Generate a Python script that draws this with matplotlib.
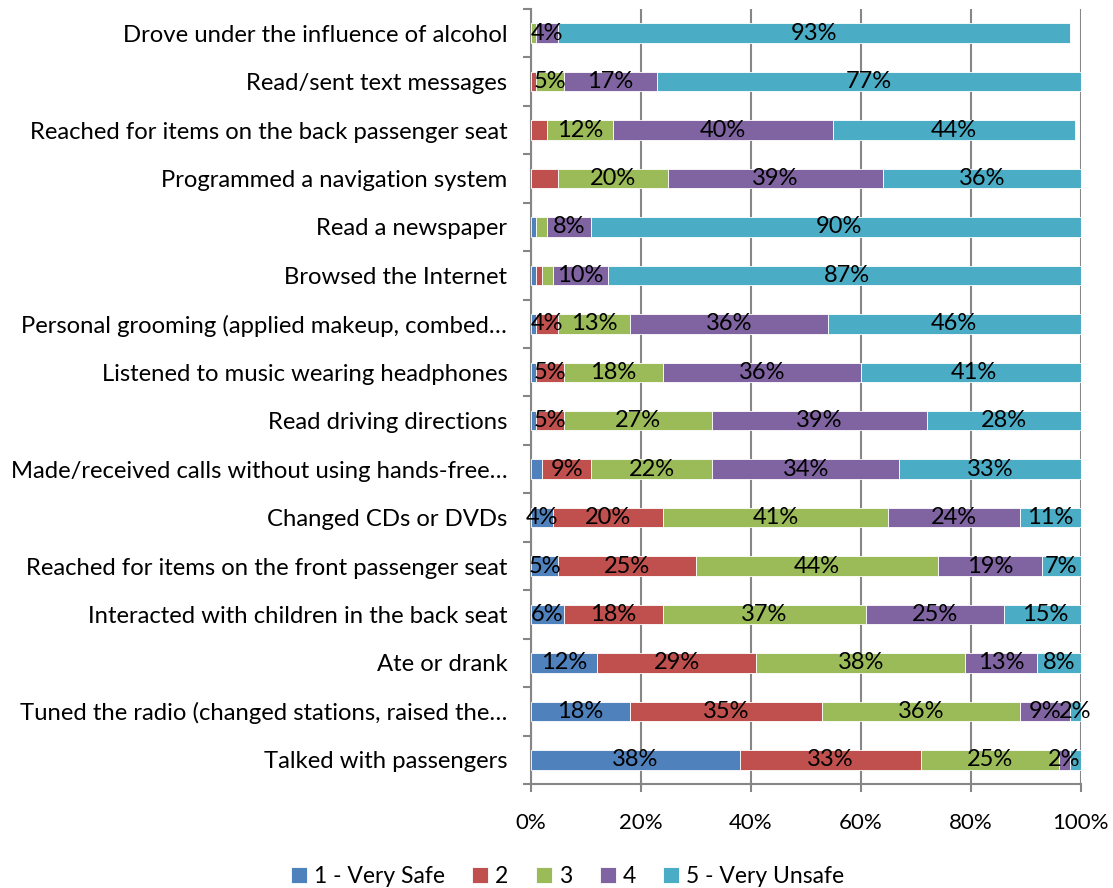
import matplotlib
matplotlib.use("Agg")
import matplotlib.pyplot as plt
import numpy as np

plt.rcParams['font.family'] = ['Lato', 'DejaVu Sans']

categories = [
    "Drove under the influence of alcohol",
    "Read/sent text messages",
    "Reached for items on the back passenger seat",
    "Programmed a navigation system",
    "Read a newspaper",
    "Browsed the Internet",
    "Personal grooming (applied makeup, combed\u2026",
    "Listened to music wearing headphones",
    "Read driving directions",
    "Made/received calls without using hands-free\u2026",
    "Changed CDs or DVDs",
    "Reached for items on the front passenger seat",
    "Interacted with children in the back seat",
    "Ate or drank",
    "Tuned the radio (changed stations, raised the\u2026",
    "Talked with passengers",
]

very_safe = [0, 0, 0, 0, 1, 1, 1, 1, 1, 2, 4, 5, 6, 12, 18, 38]
level_2 = [0, 1, 3, 5, 0, 1, 4, 5, 5, 9, 20, 25, 18, 29, 35, 33]
level_3 = [1, 5, 12, 20, 2, 2, 13, 18, 27, 22, 41, 44, 37, 38, 36, 25]
level_4 = [4, 17, 40, 39, 8, 10, 36, 36, 39, 34, 24, 19, 25, 13, 9, 2]
very_unsafe = [93, 77, 44, 36, 90, 87, 46, 41, 28, 33, 11, 7, 15, 8, 2, 2]

series_names = ["1 - Very Safe", "2", "3", "4", "5 - Very Unsafe"]
colors = ["#4F81BD", "#C0504D", "#9BBB59", "#8064A2", "#4BACC6"]

# labels that the original hid / kept despite the size
hidden = {(3, 1)}
forced = {(14, 4), (15, 3)}

series = [very_safe, level_2, level_3, level_4, very_unsafe]

fig = plt.figure(figsize=(11.13, 8.88), dpi=100)
ax = fig.add_axes([0.477, 0.117, 0.494, 0.873])

y = np.arange(len(categories))
left = np.zeros(len(categories))
for s, (vals, name, c) in enumerate(zip(series, series_names, colors)):
    vals = np.array(vals, dtype=float)
    ax.barh(y, vals, left=left, height=0.4, color=c, label=name,
            edgecolor="white", linewidth=0.6, zorder=3)
    for i, v in enumerate(vals):
        show = (v >= 4 and (i, s) not in hidden) or (i, s) in forced
        if show:
            ax.text(left[i] + v / 2, i, f"{int(v)}%", ha="center", va="center",
                    fontsize=17, color="black", zorder=4)
    left += vals

ax.set_ylim(len(categories) - 0.5, -0.5)
ax.set_xlim(0, 100)
ax.set_yticks(y)
ax.set_yticklabels(categories, fontsize=17.2)
ax.set_yticks(np.arange(len(categories) + 1) - 0.5, minor=True)
ax.tick_params(axis="y", which="major", length=0, pad=17)
ax.tick_params(axis="y", which="minor", length=6, color="#868686", width=1.5)

ax.set_xticks(np.arange(0, 101, 20))
ax.set_xticklabels([f"{t}%" for t in range(0, 101, 20)], fontsize=16)
ax.tick_params(axis="x", length=6, color="#868686", width=1.5, pad=15)
ax.grid(axis="x", color="#868686", linewidth=1.5, zorder=0)

for side in ["top", "right"]:
    ax.spines[side].set_visible(False)
for side in ["left", "bottom"]:
    ax.spines[side].set_color("#868686")
    ax.spines[side].set_linewidth(1.5)

fig.legend(loc="lower center", bbox_to_anchor=(0.51, -0.022), ncol=5,
           frameon=False, fontsize=16.5, handlelength=0.7, handleheight=0.7,
           handletextpad=0.3, columnspacing=1.2)

fig.savefig("out.png", dpi=100)
